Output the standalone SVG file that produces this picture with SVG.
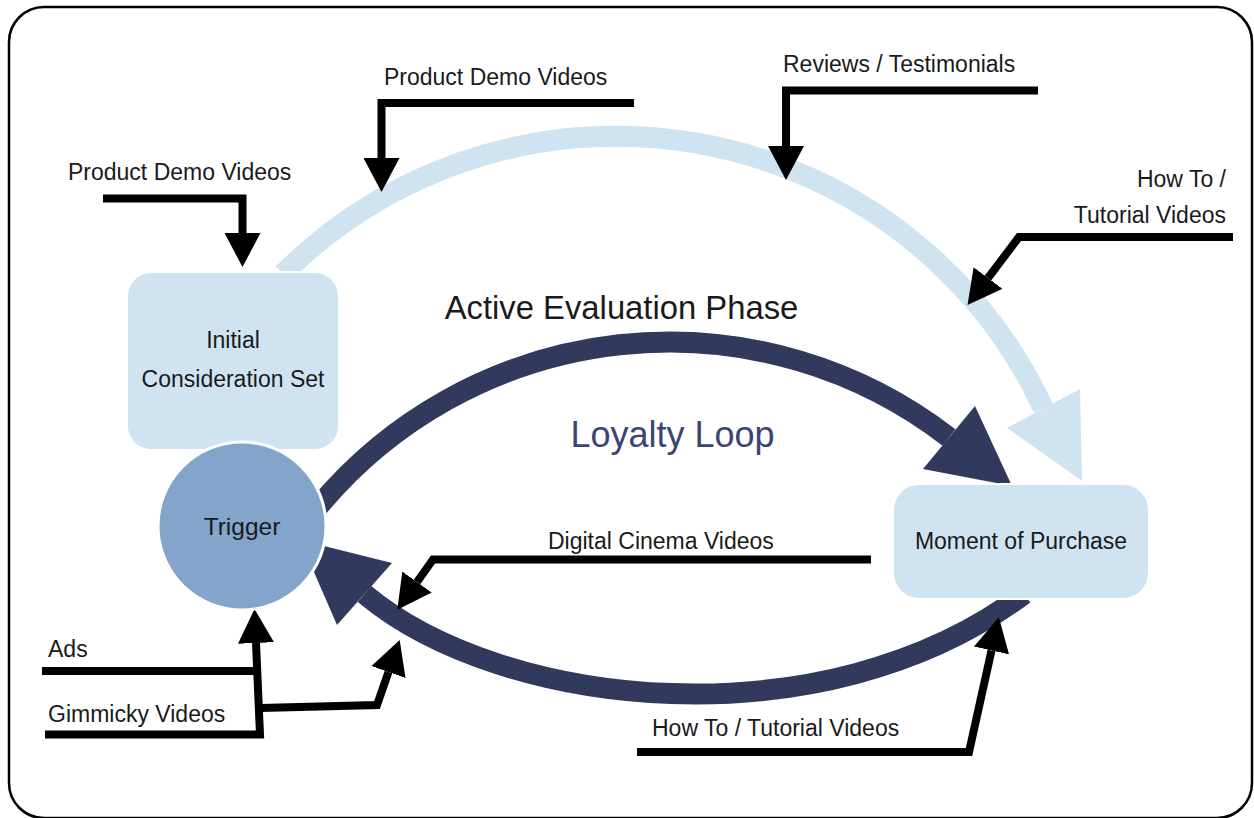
<svg xmlns="http://www.w3.org/2000/svg" width="1254" height="818" viewBox="0 0 1254 818">
  <defs>
    <style>
      text { font-family: "Liberation Sans", Arial, sans-serif; fill: #1a1a1a; }
      .lbl { font-size: 23px; }
      .end { text-anchor: end; }
      .mid { text-anchor: middle; }
      .node-text { font-size: 23px; text-anchor: middle; }
      .feed { fill: none; stroke: #000; stroke-width: 8; stroke-linejoin: miter; }
      .arc-light { fill: none; stroke: #d0e3f1; stroke-width: 21; }
      .arc-dark { fill: none; stroke: #313a5d; stroke-width: 21; }
      .head-light { fill: #d0e3f1; }
      .head-dark { fill: #313a5d; }
      .box { fill: #d0e3f1; stroke: #fff; stroke-width: 2; }
    </style>
    <marker id="tip" markerUnits="userSpaceOnUse" viewBox="0 0 34 36" refX="0" refY="18" markerWidth="34" markerHeight="36" orient="auto">
      <path d="M0,0 L34,18 L0,36 Z" fill="#000"/>
    </marker>
  </defs>

  <!-- outer frame -->
  <rect x="9" y="7" width="1243" height="811" rx="35" fill="#fff" stroke="#000" stroke-width="2.5"/>

  <g id="connectors">
    <!-- research path: consideration set to purchase -->
    <path class="arc-light" d="M 283 274 A 471.5 471.5 0 0 1 1043.5 408.5"/>
    <polygon class="head-light" points="1007,428 1080,389 1082,481"/>

    <!-- active evaluation: trigger to purchase -->
    <path class="arc-dark" d="M 318 507 A 457 457 0 0 1 949 437.5"/>
    <polygon class="head-dark" points="923,469 975,406 1012,486"/>

    <!-- loyalty loop: purchase back to trigger -->
    <path class="arc-dark" d="M 1024 594 C 824 744, 502.6 709.6, 364.5 594"/>
    <polygon class="head-dark" points="392,563 337,625 300,540"/>

    <!-- video feeds -->
    <path class="feed" marker-end="url(#tip)" d="M103 198.5 H242.5 V233"/>
    <path class="feed" marker-end="url(#tip)" d="M634 103 H381.5 V158"/>
    <path class="feed" marker-end="url(#tip)" d="M1038 90.5 H786 V146"/>
    <path class="feed" marker-end="url(#tip)" d="M1233 237 H1019 L988 278"/>
    <path class="feed" marker-end="url(#tip)" d="M871 559.5 H433 L417 582"/>
    <path class="feed" d="M42 671 H260"/>
    <path class="feed" marker-end="url(#tip)" d="M45 734.5 H260 L256 643"/>
    <path class="feed" marker-end="url(#tip)" d="M260 708 L377 705 L388.5 672"/>
    <path class="feed" marker-end="url(#tip)" d="M637 752 H969 L991.5 650.5"/>

    <!-- feed labels -->
    <text class="lbl" x="68" y="180">Product Demo Videos</text>
    <text class="lbl" x="384" y="85">Product Demo Videos</text>
    <text class="lbl" x="783" y="72">Reviews / Testimonials</text>
    <text class="lbl end" x="1226" y="187">How To /</text>
    <text class="lbl end" x="1226" y="223">Tutorial Videos</text>
    <text class="lbl" x="548" y="549">Digital Cinema Videos</text>
    <text class="lbl" x="48" y="657">Ads</text>
    <text class="lbl" x="48" y="722">Gimmicky Videos</text>
    <text class="lbl" x="652" y="736">How To / Tutorial Videos</text>

    <!-- phase labels -->
    <text class="mid" x="621.5" y="319" font-size="32.8">Active Evaluation Phase</text>
    <text class="mid" x="672.5" y="447" font-size="36" style="fill:#3b4571">Loyalty Loop</text>
  </g>

  <g id="initial-consideration-set">
    <rect class="box" x="127" y="272" width="212" height="178" rx="24"/>
    <text class="node-text" x="233" y="348">Initial</text>
    <text class="node-text" x="233" y="386.5">Consideration Set</text>
  </g>

  <g id="trigger">
    <circle cx="242" cy="526" r="84" fill="#84a5cb" stroke="#fff" stroke-width="3"/>
    <text class="node-text" x="242" y="535" style="font-size:24.5px">Trigger</text>
  </g>

  <g id="moment-of-purchase">
    <rect class="box" x="893" y="484" width="256" height="115" rx="26"/>
    <text class="node-text" x="1021" y="549">Moment of Purchase</text>
  </g>
</svg>
